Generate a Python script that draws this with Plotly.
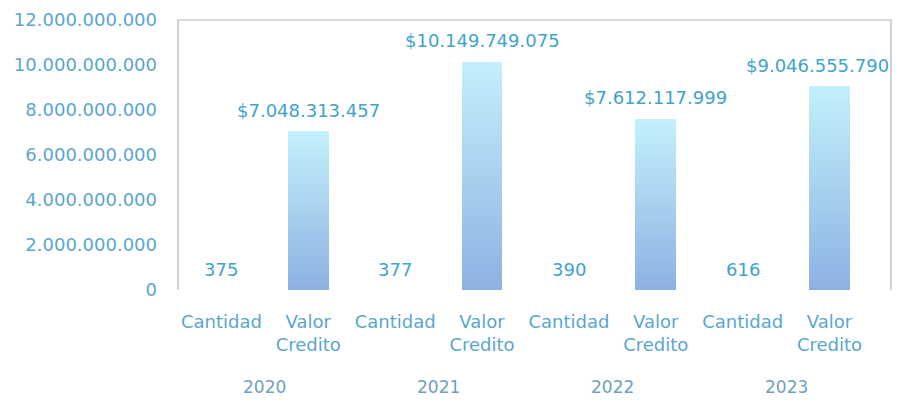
import plotly.graph_objects as go

years = ["2020", "2021", "2022", "2023"]
series_names = ["Cantidad", "Valor Credito"]
cantidad = [375, 377, 390, 616]
valor_credito = [7048313457, 10149749075, 7612117999, 9046555790]
y_ticks = [0, 2000000000, 4000000000, 6000000000, 8000000000, 10000000000, 12000000000]

FONT = "DejaVu Sans"
FS = 18
LABEL_C = "#3fa3cc"
TICK_C = "#5aa6cf"
YEAR_C = "#6f9fbd"

def dots(v):
    return f"{v:,}".replace(",", ".")

xcat = []
tick_text = []
for y in years:
    xcat.append(f"{y}|Cantidad")
    tick_text.append("Cantidad")
    xcat.append(f"{y}|Valor")
    tick_text.append("Valor<br>Credito")

x_cant = [f"{y}|Cantidad" for y in years]
x_val = [f"{y}|Valor" for y in years]

fig = go.Figure()
fig.add_trace(go.Bar(x=x_cant, y=cantidad, marker=dict(color="#8db4e3", line=dict(width=0)),
                     hoverinfo="skip"))

# gradient via stacked segments
N = 60
top = (194, 240, 252)
bot = (141, 178, 226)
for k in range(N):
    t = k / (N - 1)
    c = tuple(round(bot[i] + (top[i] - bot[i]) * t) for i in range(3))
    fig.add_trace(go.Bar(x=x_val, y=[v / N for v in valor_credito],
                         marker=dict(color="rgb(%d,%d,%d)" % c, line=dict(width=0)),
                         hoverinfo="skip"))

annotations = []
for i, y in enumerate(years):
    annotations.append(dict(x=f"{y}|Cantidad", y=cantidad[i], xref="x", yref="y",
                            text=str(cantidad[i]), showarrow=False, yshift=21,
                            font=dict(family=FONT, size=FS, color=LABEL_C)))
    annotations.append(dict(x=f"{y}|Valor", y=valor_credito[i], xref="x", yref="y",
                            text="$" + dots(valor_credito[i]), showarrow=False, yshift=21,
                            xshift=(-12 if i == len(years) - 1 else 0),
                            font=dict(family=FONT, size=FS, color=LABEL_C)))
    annotations.append(dict(x=2 * i + 0.5, y=0, xref="x", yref="paper",
                            text=y, showarrow=False, yshift=-109,
                            font=dict(family=FONT, size=FS - 1, color=YEAR_C)))

fig.update_layout(
    width=903, height=396,
    margin=dict(l=170, r=20, t=12, b=114, autoexpand=False),
    barmode="stack", bargap=0.53,
    showlegend=False,
    plot_bgcolor="white", paper_bgcolor="white",
    separators=",.",
    annotations=annotations,
    shapes=[dict(type="path", xref="paper", yref="paper",
                 path="M 0,0 L 0,1 L 1,1 L 1,0",
                 line=dict(color="#b5b5b5", width=1.2), layer="below")],
    xaxis=dict(type="category", categoryorder="array", categoryarray=xcat,
               tickvals=xcat, ticktext=tick_text, showgrid=False, showline=False,
               zeroline=False, ticks="", tickangle=0, automargin=False,
               ticklabelstandoff=19,
               tickfont=dict(family=FONT, size=FS, color=TICK_C)),
    yaxis=dict(range=[0, 12000000000], tickvals=y_ticks,
               ticktext=[dots(v) for v in y_ticks],
               showgrid=False, zeroline=False, showline=False, ticks="",
               ticklabelstandoff=20, automargin=False,
               tickfont=dict(family=FONT, size=FS, color=TICK_C)),
)

fig.write_html("out.html")
